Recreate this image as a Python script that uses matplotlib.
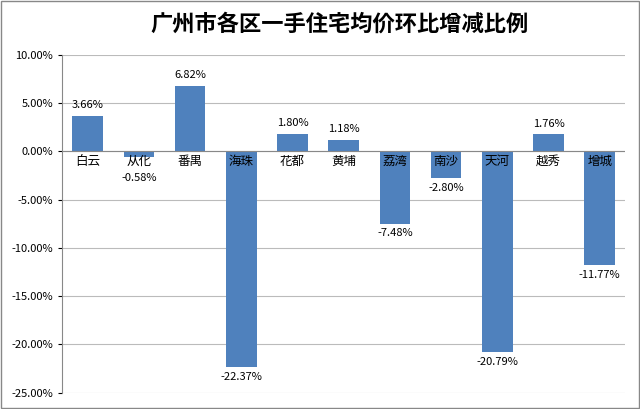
import matplotlib.pyplot as plt
from matplotlib.ticker import FuncFormatter, MultipleLocator
import matplotlib.patches as mpatches
from matplotlib import font_manager as fm

categories = ["白云","从化","番禺","海珠","花都","黄埔","荔湾","南沙","天河","越秀","增城"]
values = [3.66,-0.58,6.82,-22.37,1.80,1.18,-7.48,-2.80,-20.79,1.76,-11.77]

names = sorted({f.name for f in fm.fontManager.ttflist})
cjk = [n for n in names if 'CJK' in n]
pref = [n for n in ["Noto Sans CJK SC","Noto Sans CJK JP","Noto Sans CJK TC","Noto Sans CJK KR"] if n in names] + cjk
plt.rcParams['font.family'] = 'sans-serif'
plt.rcParams['font.sans-serif'] = pref + ['DejaVu Sans']
plt.rcParams['axes.unicode_minus'] = False

fig = plt.figure(figsize=(6.4,4.09), dpi=100)
fig.patches.append(mpatches.Rectangle((0.002,0.002),0.996,0.996,transform=fig.transFigure,fill=False,ec='#888888',lw=1))
ax = fig.add_axes([0.097,0.04,0.88,0.826])
x = range(len(categories))
ax.bar(x, values, width=0.6, color='#4F81BD', zorder=2)
ax.set_ylim(-25,10)
ax.set_xlim(-0.5,len(categories)-0.5)
ax.yaxis.set_major_locator(MultipleLocator(5))
ax.yaxis.set_major_formatter(FuncFormatter(lambda v,p: f"{v:.2f}%"))
ax.tick_params(axis='y', labelsize=8, length=3)
ax.set_xticks([])
ax.grid(axis='y', color='#BBBBBB', lw=0.8, zorder=0)
for s in ['top','right','bottom']:
    ax.spines[s].set_visible(False)
ax.spines['left'].set_color('#888888')
ax.axhline(0, color='#888888', lw=0.8, zorder=3)
for i,(c,v) in enumerate(zip(categories,values)):
    ax.text(i,-0.4,c,ha='center',va='top',fontsize=9,zorder=4)
    if v>=0:
        ax.text(i,v+0.6,f"{v:.2f}%",ha='center',va='bottom',fontsize=8,zorder=4)
    else:
        y = v-0.5 if v<-2 else -2.2
        ax.text(i,y,f"{v:.2f}%",ha='center',va='top',fontsize=8,zorder=4)
fig.text(0.53,0.94,"广州市各区一手住宅均价环比增减比例",ha='center',va='center',fontsize=16,fontweight='bold')
fig.savefig('out.png', dpi=100)
